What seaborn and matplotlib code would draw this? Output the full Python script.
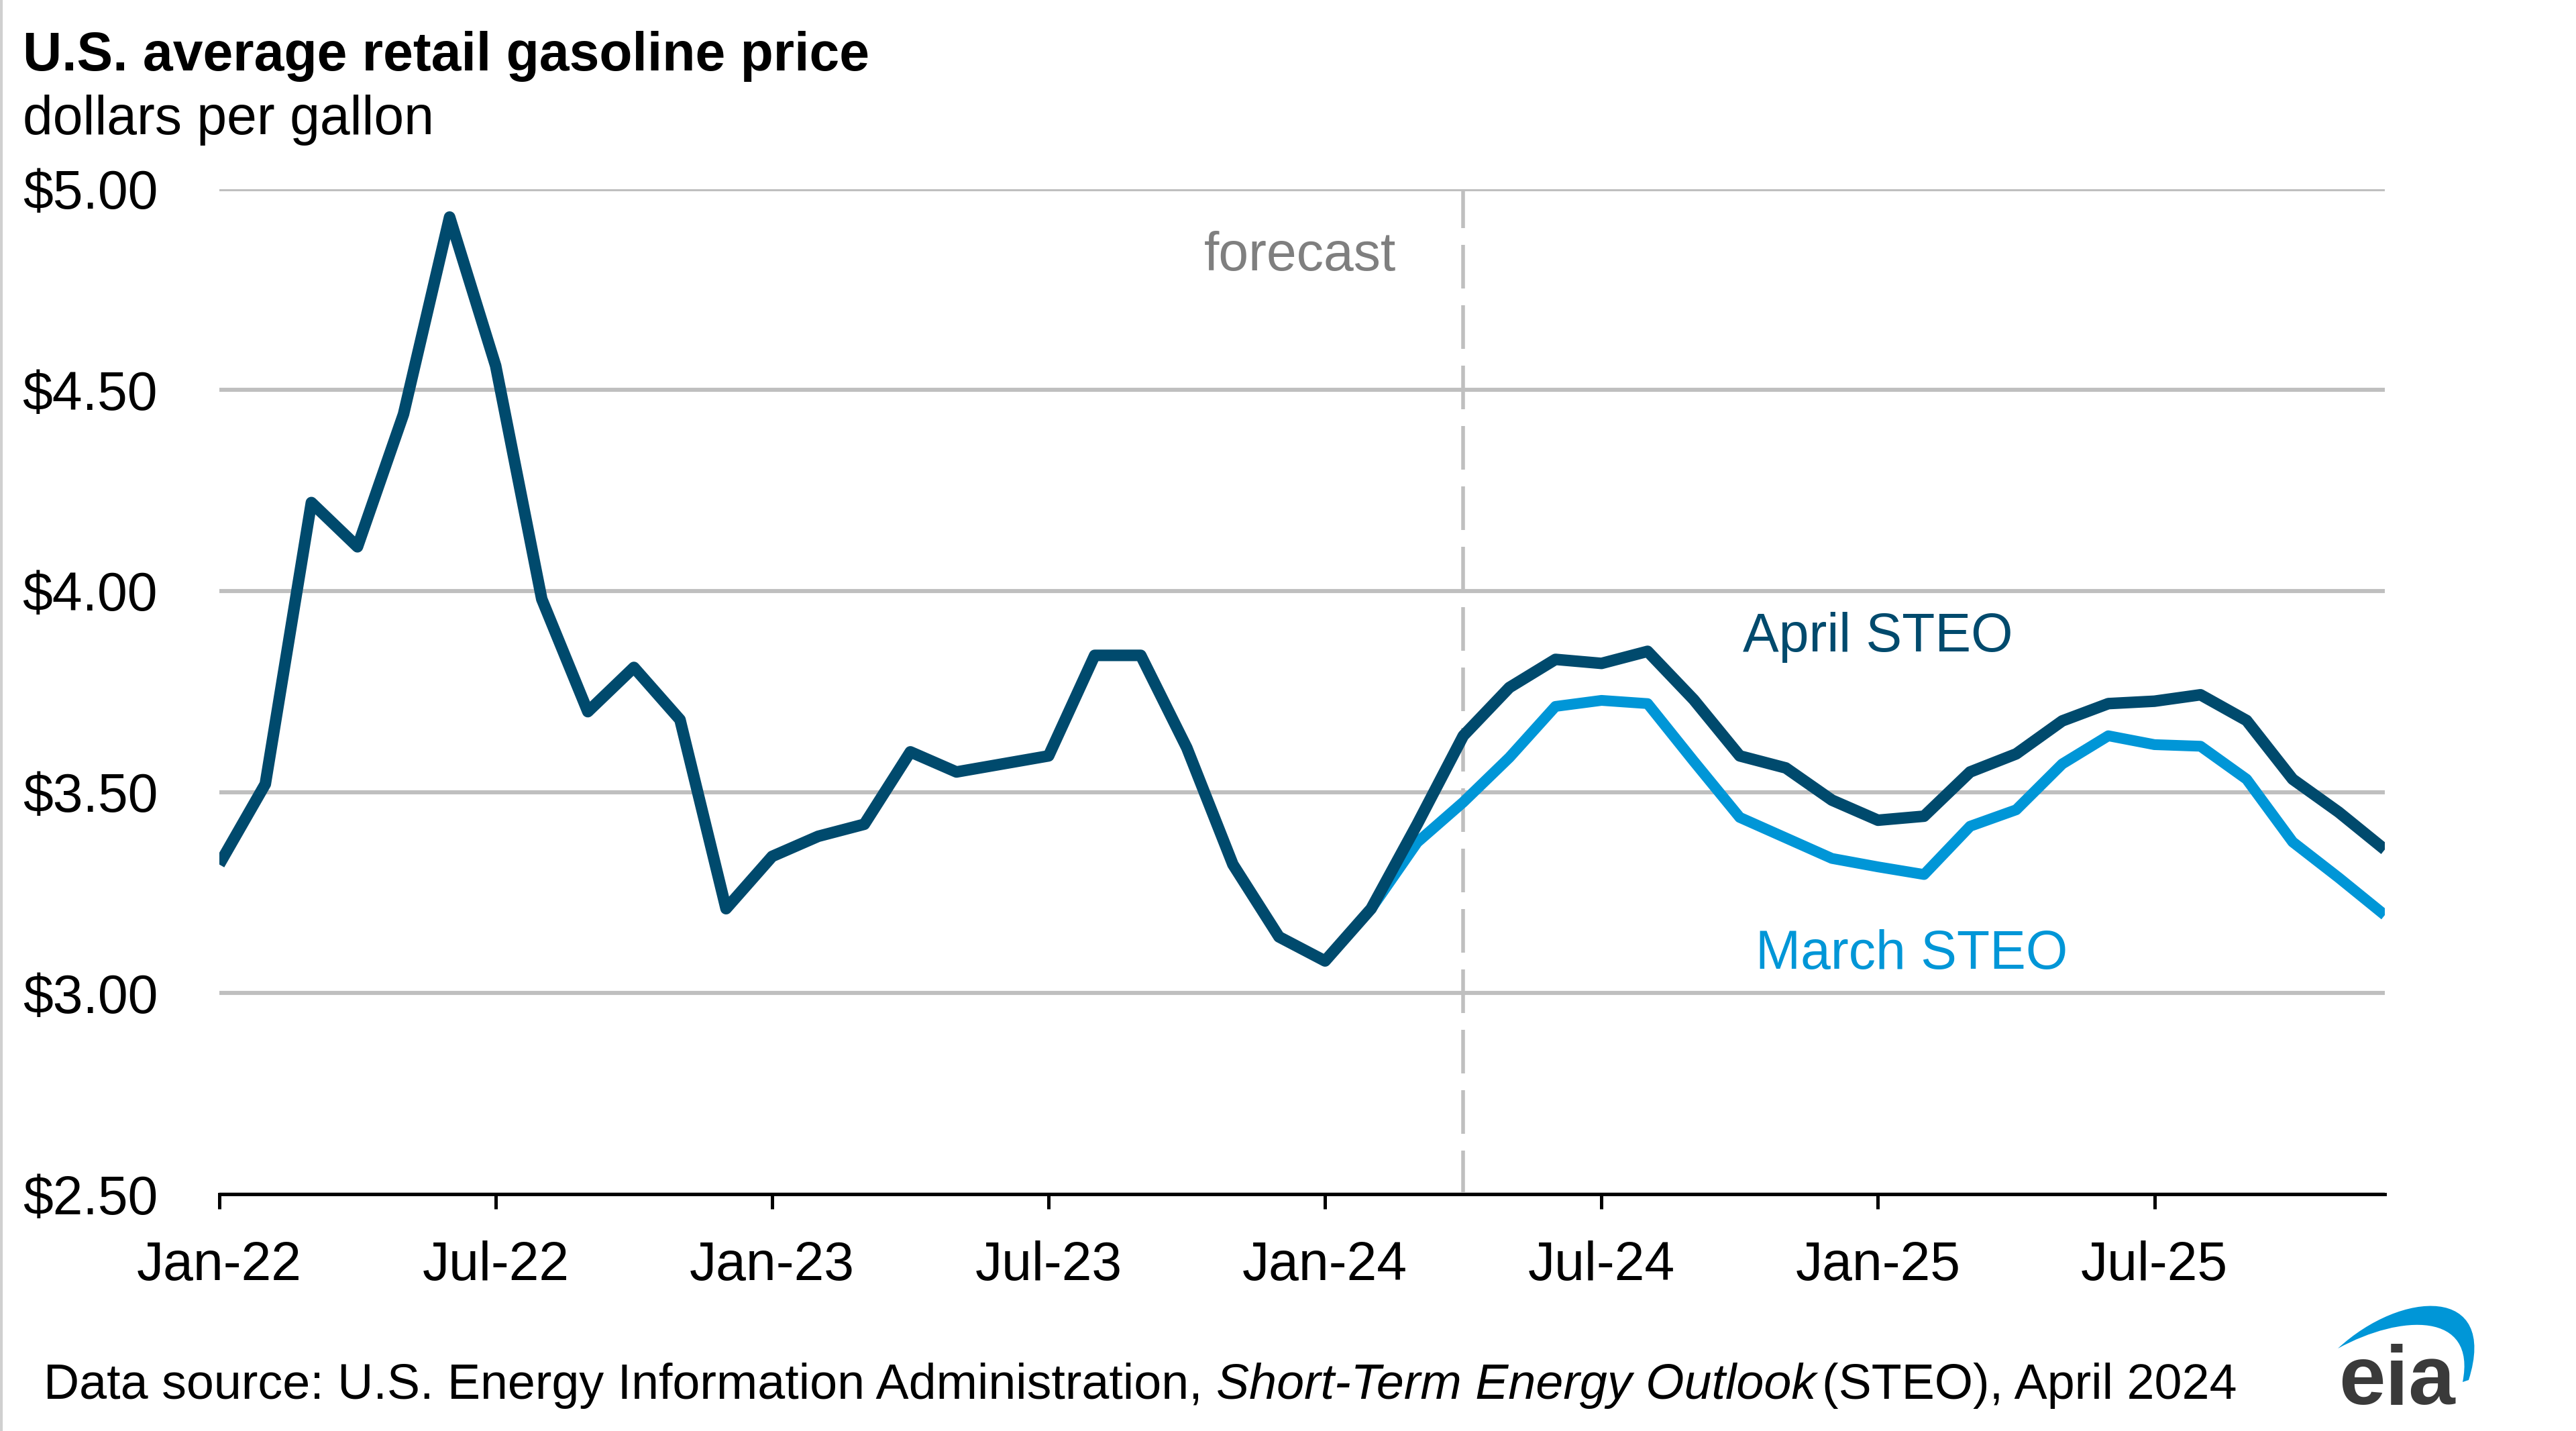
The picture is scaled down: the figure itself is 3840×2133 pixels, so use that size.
import numpy as np
import pandas as pd
import matplotlib
matplotlib.use("Agg")
import matplotlib.pyplot as plt
import seaborn as sns
from matplotlib.path import Path
from matplotlib.patches import PathPatch
from matplotlib.lines import Line2D

# ---------------- data ----------------
month_labels = pd.date_range("2022-01-01", periods=48, freq="MS").strftime("%b-%y").tolist()

april_steo = [3.32, 3.52, 4.22, 4.11, 4.44, 4.93, 4.56, 3.98, 3.70, 3.81, 3.68, 3.21,
              3.34, 3.39, 3.42, 3.60, 3.55, 3.57, 3.59, 3.84, 3.84, 3.61, 3.32, 3.14,
              3.08, 3.21, 3.42, 3.64, 3.76, 3.83, 3.82, 3.85, 3.73, 3.59, 3.56, 3.48,
              3.43, 3.44, 3.55, 3.595, 3.677, 3.72, 3.726, 3.742, 3.678, 3.532, 3.45, 3.357]

# March STEO shown from Feb-24 onward (earlier months coincide with April STEO)
march_start = "Feb-24"
march_steo = [3.21, 3.375, 3.475, 3.586, 3.713, 3.728, 3.72, 3.577, 3.437, 3.386, 3.335,
              3.314, 3.295, 3.415, 3.456, 3.57, 3.64, 3.618, 3.614, 3.532, 3.376, 3.287, 3.194]

forecast_start = "Apr-24"
xtick_labels = ["Jan-22", "Jul-22", "Jan-23", "Jul-23", "Jan-24", "Jul-24", "Jan-25", "Jul-25"]
ytick_values = [2.5, 3.0, 3.5, 4.0, 4.5, 5.0]

# ---------------- style ----------------
DARK = "#004A6D"
LIGHT = "#0096D7"
GRID = "#BFBFBF"

sns.set_theme(style="white")
plt.rcParams["font.family"] = ["Liberation Sans", "DejaVu Sans"]

W, H, DPI = 3840, 2133, 200
fig = plt.figure(figsize=(W / DPI, H / DPI), dpi=DPI)
fig.patch.set_facecolor("white")

def fx(px):
    return px / W

def fy(py):
    return 1 - py / H

ax = fig.add_axes([fx(326.8), fy(1780), fx(3555) - fx(326.8), fy(281.6) - fy(1780)])

x_all = np.arange(len(month_labels))
i0 = month_labels.index(march_start)
x_march = x_all[i0:i0 + len(march_steo)]

df_a = pd.DataFrame({"x": x_all, "price": april_steo})
df_m = pd.DataFrame({"x": x_march, "price": march_steo})

sns.lineplot(data=df_m, x="x", y="price", ax=ax, color=LIGHT, linewidth=5.8,
             solid_joinstyle="round", solid_capstyle="butt", zorder=3)
sns.lineplot(data=df_a, x="x", y="price", ax=ax, color=DARK, linewidth=6.2,
             solid_joinstyle="round", solid_capstyle="butt", zorder=4)

fc = month_labels.index(forecast_start)
ax.axvline(fc, color=GRID, linewidth=2.0, dashes=(11.7, 4.5), zorder=2)

ax.set_xlim(0, len(month_labels) - 1)
ax.set_ylim(2.5, 5.0)
ax.set_yticks(ytick_values)
ax.set_yticklabels([f"${v:.2f}" for v in ytick_values])
ax.set_xticks([month_labels.index(l) for l in xtick_labels])
ax.set_xticklabels(xtick_labels)
ax.set_xlabel("")
ax.set_ylabel("")

ax.yaxis.grid(True, color=GRID, linewidth=2.2, zorder=1)
ax.xaxis.grid(False)
ax.set_axisbelow(True)
for s in ["top", "right", "left"]:
    ax.spines[s].set_visible(False)
ax.spines["bottom"].set_color("black")
ax.spines["bottom"].set_linewidth(1.8)
ax.spines["bottom"].set_zorder(5)

ax.tick_params(axis="y", length=0, pad=33, labelsize=29, labelcolor="black")
ax.tick_params(axis="x", length=7.9, width=1.8, direction="out", color="black",
               pad=17, labelsize=29, labelcolor="black", bottom=True)

# annotations
ax.text(fc - 100 / 68.63, 4.797, "forecast", color="#7F7F7F", fontsize=29,
        ha="right", va="baseline")
ax.text(33.07, 3.850, "April STEO", color=DARK, fontsize=29, ha="left", va="baseline")
ax.text(33.34, 3.060, "March STEO", color=LIGHT, fontsize=29, ha="left", va="baseline")

# titles
fig.text(fx(34), fy(105), "U.S. average retail gasoline price", fontsize=29,
         fontweight="bold", color="black", ha="left", va="baseline")
fig.text(fx(34), fy(200), "dollars per gallon", fontsize=29, color="black",
         ha="left", va="baseline")

# footer with italic part
fig.canvas.draw()
renderer = fig.canvas.get_renderer()
fs_foot = 26.5
t1 = fig.text(fx(65), fy(2085), "Data source: U.S. Energy Information Administration,",
              fontsize=fs_foot, color="black", ha="left", va="baseline")
bb = t1.get_window_extent(renderer)
space = 0.278 * fs_foot * DPI / 72
t2 = fig.text((bb.x1 + space) / W, fy(2085), "Short-Term Energy Outlook",
              fontsize=fs_foot, style="italic", color="black", ha="left", va="baseline")
bb2 = t2.get_window_extent(renderer)
t3 = fig.text((bb2.x1 + 0.12 * fs_foot * DPI / 72) / W, fy(2085), "(STEO), April 2024",
              fontsize=fs_foot, color="black", ha="left", va="baseline")

# eia logo
fig.text(fx(3486), fy(2093), "eia", fontsize=45, fontweight="bold", color="#3A3A3A",
         ha="left", va="baseline")
pts = [(3485, 2010), (3580, 1922), (3725, 1915), (3680, 2057),
       (3671, 2060), (3692, 1955), (3580, 1958), (3485, 2010)]
verts = [(fx(a), fy(b)) for a, b in pts]
codes = [Path.MOVETO, Path.CURVE4, Path.CURVE4, Path.CURVE4,
         Path.LINETO, Path.CURVE4, Path.CURVE4, Path.CURVE4]
fig.add_artist(PathPatch(Path(verts + [verts[0]], codes + [Path.CLOSEPOLY]),
                         facecolor=LIGHT, edgecolor="none", transform=fig.transFigure))

# thin left border
fig.add_artist(Line2D([fx(2), fx(2)], [0, 1], color="#D0D0D0", linewidth=1.5,
                      transform=fig.transFigure))

fig.savefig("out.png", dpi=DPI, facecolor="white")
